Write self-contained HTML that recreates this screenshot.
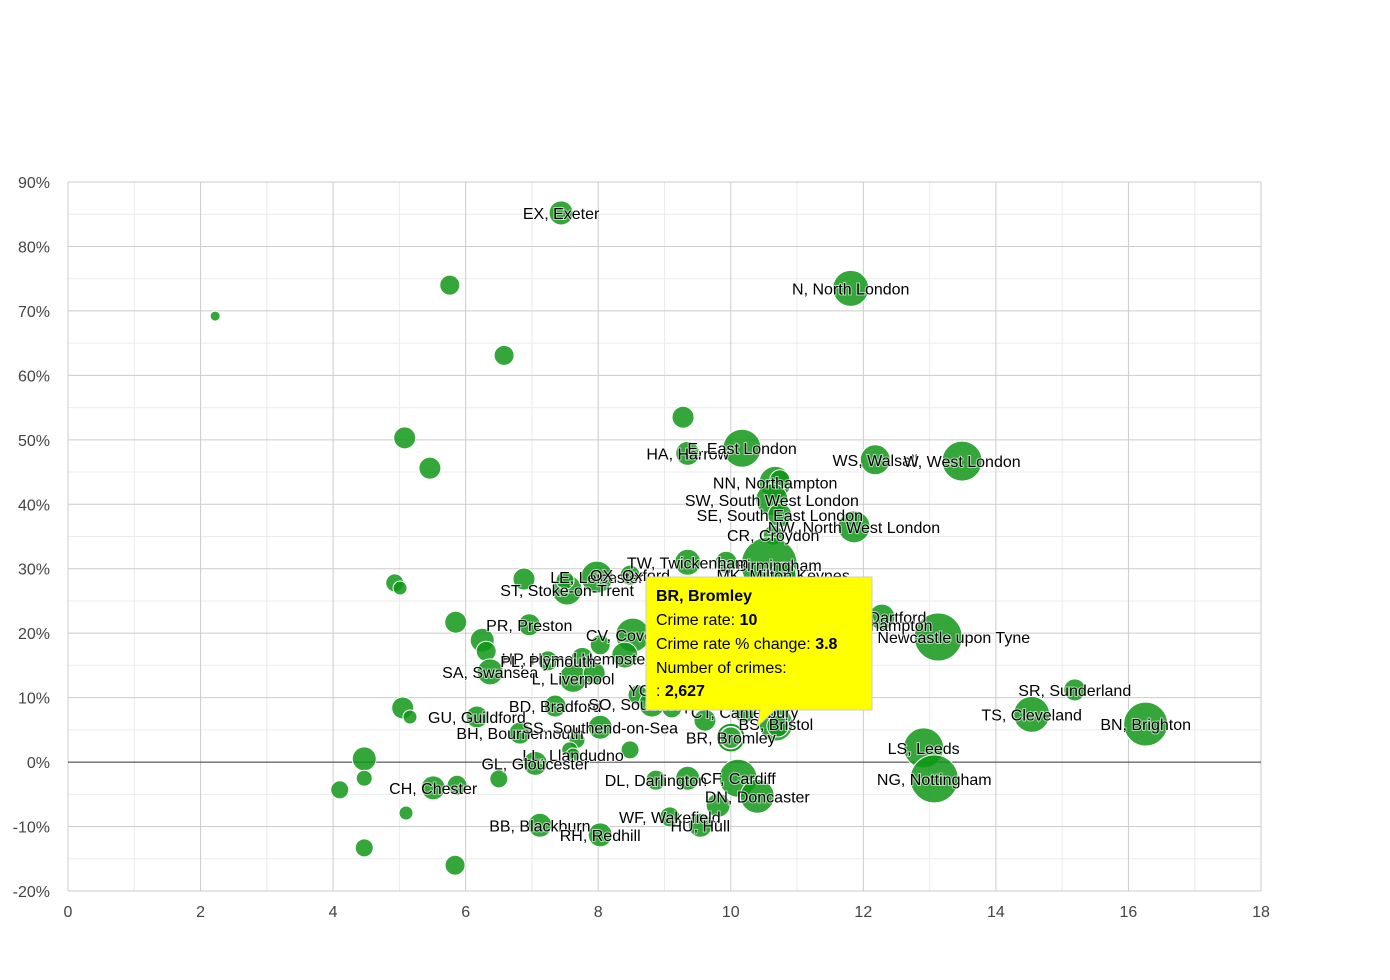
<!DOCTYPE html>
<html><head><meta charset="utf-8">
<style>
html,body{margin:0;padding:0;background:#fff;}
svg{display:block;font-family:"Liberation Sans",Arial,sans-serif;}
.lbl{font-size:16px;fill:#000;stroke:#fff;stroke-width:2px;paint-order:stroke;stroke-opacity:0.6}
</style></head>
<body>
<svg id="chart" width="1390" height="980" viewBox="0 0 1390 980" xmlns="http://www.w3.org/2000/svg">
<g id="grid"></g>
<g id="axes"></g>
<g id="bubbles"></g>
<g id="labels"></g>
<g id="tooltip">
  <path d="M646,577 H872 V710 H775 L757,727 L760,710 H646 Z" fill="#ffff00" stroke="#cccccc" stroke-width="1"/>
  <text x="656" y="601" font-size="16" font-weight="bold" fill="#000">BR, Bromley</text>
  <text x="656" y="625" font-size="16" fill="#000">Crime rate: <tspan font-weight="bold">10</tspan></text>
  <text x="656" y="649" font-size="16" fill="#000">Crime rate % change: <tspan font-weight="bold">3.8</tspan></text>
  <text x="656" y="673" font-size="16" fill="#000">Number of crimes:</text>
  <text x="656" y="696" font-size="16" fill="#000">: <tspan font-weight="bold">2,627</tspan></text>
</g>
</svg>
<script>
const labels = ["EX, Exeter","","","","N, North London","","","","HA, Harrow","E, East London","WS, Walsall","W, West London","NN, Northampton","","SW, South West London","SE, South East London","NW, North West London","CR, Croydon","B, Birmingham","TW, Twickenham","","MK, Milton Keynes","LE, Leicester","OX, Oxford","ST, Stoke-on-Trent","","","","","","PR, Preston","","","CV, Coventry","","HP, Hemel Hempstead","","SA, Swansea","L, Liverpool","","PL, Plymouth","YO, York","","BD, Bradford","","","GU, Guildford","BH, Bournemouth","SO, Southampton","","","CT, Canterbury","BS, Bristol","","SS, Southend-on-Sea","","","","BR, Bromley","LL, Llandudno","GL, Gloucester","","","","CH, Chester","","","","","","BB, Blackburn","RH, Redhill","DL, Darlington","","CF, Cardiff","DN, Doncaster","WF, Wakefield","","HU, Hull","LS, Leeds","NG, Nottingham","SR, Sunderland","TS, Cleveland","BN, Brighton","NE, Newcastle upon Tyne","DA, Dartford","WV, Wolverhampton"];
const crimeRate = [7.44,5.76,2.22,6.58,11.81,9.28,5.08,5.46,9.35,10.17,12.18,13.49,10.67,10.74,10.62,10.74,11.86,10.64,10.58,9.35,9.93,10.79,7.98,8.48,7.53,7.50,6.88,4.93,5.01,5.85,6.96,6.25,6.31,8.52,8.03,7.76,8.40,6.37,7.62,7.94,7.24,8.93,8.60,7.35,5.05,5.16,6.17,6.82,8.81,9.11,9.61,10.21,10.68,10.71,8.03,7.68,7.57,8.48,10.0,7.62,7.05,4.47,4.47,4.10,5.51,5.87,6.50,5.10,4.47,5.84,7.12,8.03,8.87,9.35,10.11,10.40,9.08,9.81,9.54,12.91,13.07,15.19,14.54,16.26,13.13,12.28,11.95];
const rateChange = [85.2,74.0,69.2,63.1,73.5,53.5,50.3,45.6,47.9,48.7,46.9,46.7,43.4,43.8,40.7,38.3,36.5,35.2,30.6,31.0,31.0,29.0,28.7,29.0,26.7,28.2,28.4,27.8,27.0,21.7,21.3,18.9,17.2,19.7,18.2,16.1,16.6,14.0,13.0,13.8,15.7,11.2,10.4,8.7,8.4,7.0,7.0,4.5,9.0,8.4,6.5,7.8,5.9,5.6,5.4,3.4,1.9,1.9,3.8,1.1,-0.2,0.5,-2.5,-4.3,-4.0,-3.6,-2.6,-7.9,-13.3,-16.0,-9.8,-11.3,-2.8,-2.5,-2.5,-5.3,-8.5,-6.7,-9.8,2.2,-2.6,11.2,7.4,5.9,19.4,22.5,21.3];
const crimes = [2240,1554,389,1554,5035,1880,1880,1880,2238,5610,3497,6216,3978,1554,3978,2238,3978,1554,12183,2627,1880,2627,3978,1554,3497,1259,1880,1259,762,1880,1880,2238,1554,4491,1554,1880,2627,2627,3046,1880,1554,2238,1554,1880,1880,762,1880,1880,2627,1554,1880,1880,4491,1880,2238,995,995,1259,2627,762,2238,2238,995,1259,2238,1554,1259,762,1259,1554,2238,2238,1554,2238,5610,4491,1554,2238,2238,6216,8951,1880,5035,7521,8951,2627,2238];
const xTicks = [0,2,4,6,8,10,12,14,16,18];
const yTicks = [90,80,70,60,50,40,30,20,10,0,-10,-20];

const X0=68,X1=1261,Y0=891,Y1=182,xMin=0,xMax=18,yMin=-20,yMax=90;
const sx=v=>X0+(v-xMin)/(xMax-xMin)*(X1-X0);
const sy=v=>Y0-(v-yMin)/(yMax-yMin)*(Y0-Y1);
const sr=n=>13*Math.sqrt(n/2627);
const NS="http://www.w3.org/2000/svg";
function mk(tag,attrs,parent){const e=document.createElementNS(NS,tag);for(const k in attrs)e.setAttribute(k,attrs[k]);parent.appendChild(e);return e;}
const grid=document.getElementById('grid'),axes=document.getElementById('axes');
// minor grid
for(let v=xMin+1;v<xMax;v+=2){const l=mk('line',{x1:sx(v),x2:sx(v),y1:Y1,y2:Y0,stroke:'#ebebeb'},grid);

}
for(let v=yMin+5;v<yMax;v+=10){const l=mk('line',{x1:X0,x2:X1,y1:sy(v),y2:sy(v),stroke:'#ebebeb'},grid);

}
xTicks.forEach(v=>{const l=mk('line',{x1:sx(v),x2:sx(v),y1:Y1,y2:Y0,stroke:'#cccccc'},grid);


const t=mk('text',{x:sx(v),y:Y0+26,'text-anchor':'middle','font-size':16,fill:'#444'},axes);t.textContent=v;

});
yTicks.forEach(v=>{const l=mk('line',{x1:X0,x2:X1,y1:sy(v),y2:sy(v),stroke:v===0?'#333':'#cccccc'},grid);


const t=mk('text',{x:50,y:sy(v)+6,'text-anchor':'end','font-size':16,fill:'#444'},axes);t.textContent=v+'%';

});
const bg=document.getElementById('bubbles'),lg=document.getElementById('labels');
crimeRate.forEach((v,i)=>{
  const sel=labels[i]==="BR, Bromley";
  const c=mk('circle',{cx:sx(v),cy:sy(rateChange[i]),r:sr(crimes[i]),fill:'#109618','fill-opacity':0.85,stroke:sel?'#109618':'#ffffff','stroke-width':sel?1.5:1},bg);
  
  
  if(sel){const c2=mk('circle',{cx:sx(v),cy:sy(rateChange[i]),r:sr(crimes[i])-2,fill:'none',stroke:'#fff','stroke-width':1.5},bg);
  
  }
  if(labels[i]){const t=mk('text',{x:sx(v),y:sy(rateChange[i])+6,'text-anchor':'middle',class:'lbl'},lg);t.textContent=labels[i];
  
  }
});
</script>
</body></html>
